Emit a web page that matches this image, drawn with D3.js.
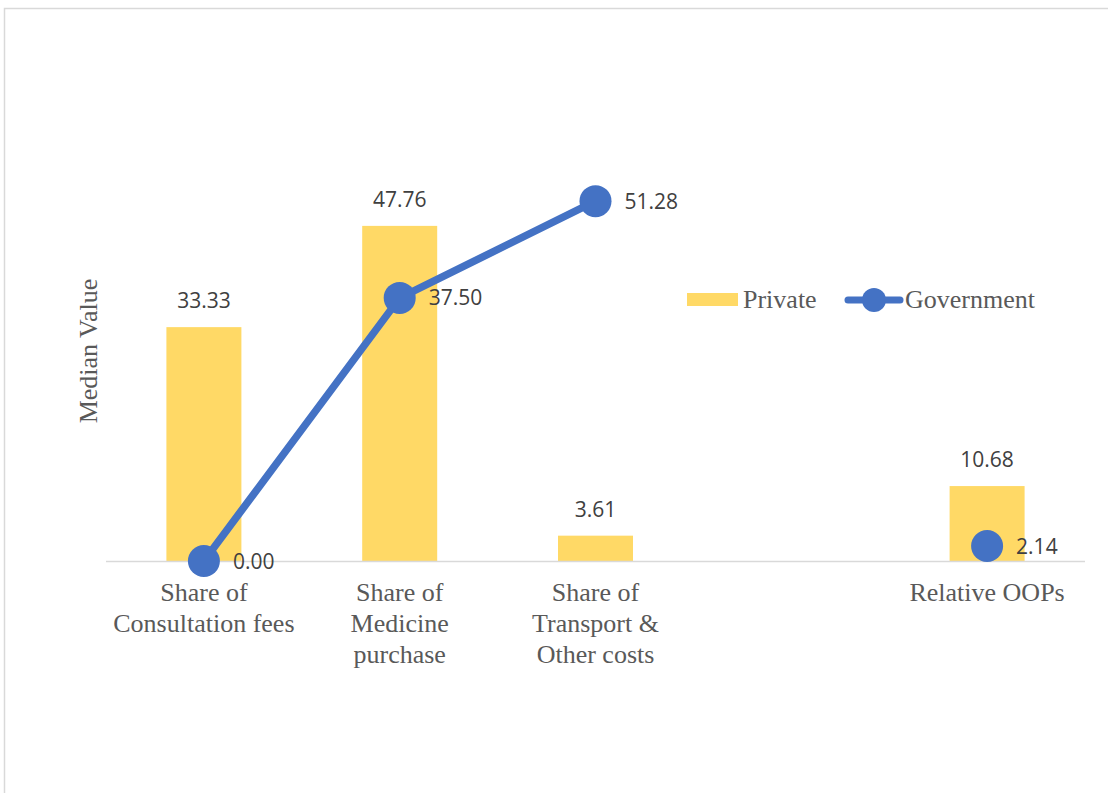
<!DOCTYPE html>
<html><head><meta charset="utf-8">
<script src="https://cdn.jsdelivr.net/npm/d3@7"></script>
<style>body{margin:0;background:#fff}svg{display:block}</style>
</head><body>
<svg id="c" width="1108" height="793"></svg>
<script>
const categories = [
  ["Share of","Consultation fees"],
  ["Share of","Medicine","purchase"],
  ["Share of","Transport &","Other costs"],
  [""],
  ["Relative OOPs"]
];
const privateValues = [33.33, 47.76, 3.61, null, 10.68];
const governmentValues = [0.00, 37.50, 51.28, null, 2.14];
const seriesNames = ["Private", "Government"];
const yAxisTitle = "Median Value";

const svg = d3.select("#c");
const W = 1108, H = 793;
const barColor = "#FFD966", lineColor = "#4472C4";

// chart border
svg.append("rect").attr("x",4.5).attr("y",8.5).attr("width",W+10).attr("height",H+10)
  .attr("fill","none").attr("stroke","#d9d9d9").attr("stroke-width",1.5);

const idx = categories.map((d,i)=>i);
const x = d3.scaleBand().domain(idx).range([106,1085]).paddingInner(0.617).paddingOuter(0.3085);
const y = d3.scaleLinear().domain([0,60]).range([561,140]);
const cx = i => x(i) + x.bandwidth()/2;

// bars
svg.append("g").selectAll("rect").data(privateValues.map((v,i)=>({v,i})).filter(d=>d.v!=null))
  .join("rect").attr("x",d=>x(d.i)).attr("width",x.bandwidth())
  .attr("y",d=>y(d.v)).attr("height",d=>y(0)-y(d.v)).attr("fill",barColor);

// axis line
svg.append("line").attr("x1",106).attr("x2",1085).attr("y1",y(0)+0.5).attr("y2",y(0)+0.5)
  .attr("stroke","#d9d9d9").attr("stroke-width",1.5);

// bar labels
svg.append("g").selectAll("text").data(privateValues.map((v,i)=>({v,i})).filter(d=>d.v!=null))
  .join("text").attr("x",d=>cx(d.i)).attr("y",d=>y(d.v)-19)
  .attr("text-anchor","middle").attr("font-family","'Open Sans', sans-serif").attr("font-size",21)
  .attr("fill","#404040").text(d=>d.v.toFixed(2));

// government line (breaks on nulls)
const gdata = governmentValues.map((v,i)=>({v,i}));
const line = d3.line().defined(d=>d.v!=null).x(d=>cx(d.i)).y(d=>y(d.v));
svg.append("path").datum(gdata).attr("d",line).attr("fill","none")
  .attr("stroke",lineColor).attr("stroke-width",7.5).attr("stroke-linejoin","round");
svg.append("g").selectAll("circle").data(gdata.filter(d=>d.v!=null)).join("circle")
  .attr("cx",d=>cx(d.i)).attr("cy",d=>y(d.v)).attr("r",16).attr("fill",lineColor);
svg.append("g").selectAll("text").data(gdata.filter(d=>d.v!=null)).join("text")
  .attr("x",d=>cx(d.i)+29).attr("y",d=>y(d.v)).attr("dy","0.36em")
  .attr("font-family","'Open Sans', sans-serif").attr("font-size",21)
  .attr("fill","#404040").text(d=>d.v.toFixed(2));

// category labels
const cat = svg.append("g").attr("font-family","'Liberation Serif','Times New Roman',serif")
  .attr("font-size",26).attr("fill","#595959").attr("text-anchor","middle");
categories.forEach((lines,i)=>{
  const t = cat.append("text").attr("x",cx(i)).attr("y",601);
  lines.forEach((l,k)=>t.append("tspan").attr("x",cx(i)).attr("dy",k===0?0:31).text(l));
});

// y axis title
svg.append("text").attr("transform","translate(97,351) rotate(-90)")
  .attr("text-anchor","middle").attr("font-family","'Liberation Serif','Times New Roman',serif")
  .attr("font-size",26).attr("fill","#595959").text(yAxisTitle);

// legend
const lg = svg.append("g").attr("font-family","'Liberation Serif','Times New Roman',serif")
  .attr("font-size",26).attr("fill","#595959");
lg.append("rect").attr("x",687).attr("y",293).attr("width",51).attr("height",13).attr("fill",barColor);
lg.append("text").attr("x",743).attr("y",308).text(seriesNames[0]);
lg.append("line").attr("x1",848).attr("x2",900).attr("y1",300).attr("y2",300)
  .attr("stroke",lineColor).attr("stroke-width",7).attr("stroke-linecap","round");
lg.append("circle").attr("cx",874).attr("cy",300).attr("r",12).attr("fill",lineColor);
lg.append("text").attr("x",905).attr("y",308).text(seriesNames[1]);
</script>
</body></html>
